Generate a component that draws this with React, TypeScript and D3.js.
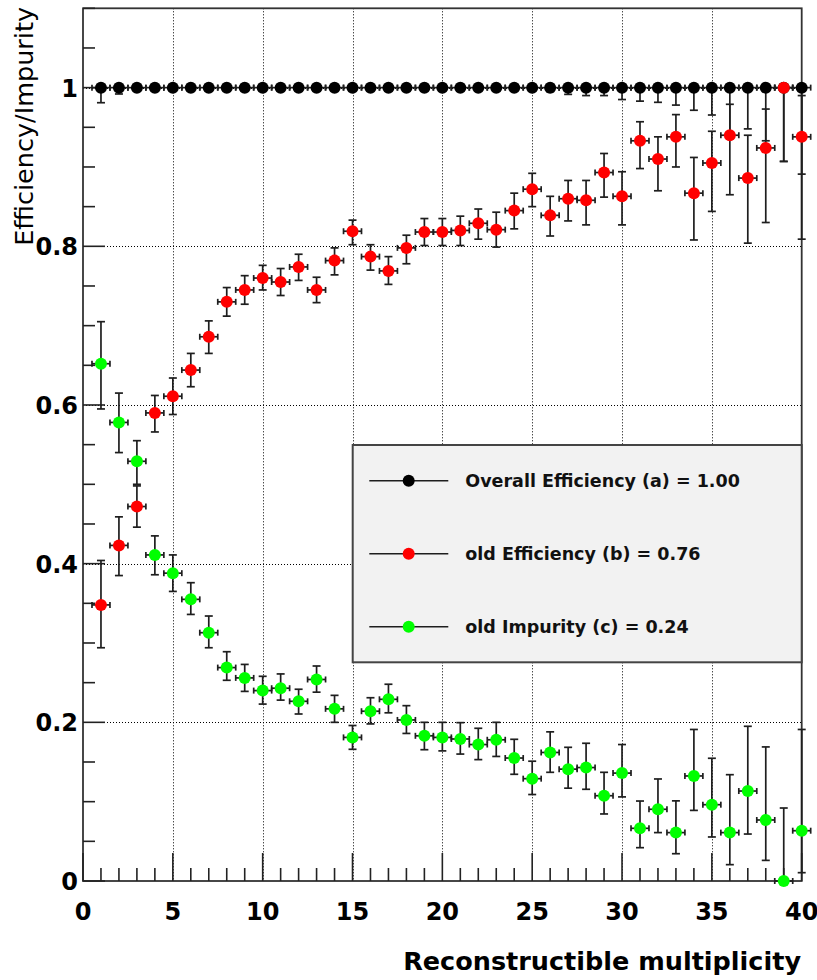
import React from 'react';
import * as d3 from 'd3';

// bins 1..40 (reconstructible multiplicity)
const bins = d3.range(1, 41);

// overall efficiency (a): all at 1, lower error only
const overallVal = bins.map(() => 1.0);
const overallLo = [
  0.981, 0.992, 0.996, 0.996, 0.996, 0.996, 0.996, 0.996, 0.996, 0.996,
  0.996, 0.996, 0.996, 0.996, 0.996, 0.996, 0.996, 0.996, 0.996, 0.996,
  0.996, 0.996, 0.996, 0.996, 0.996, 0.995, 0.9915, 0.990, 0.990, 0.985,
  0.983, 0.9815, 0.978, 0.9715, 0.9655, 0.94, 0.948, 0.933, 0.907, 0.891,
];
const overallHi = bins.map(() => 1.0);

// old efficiency (b)
const effVal = [
  0.348, 0.423, 0.472, 0.590, 0.611, 0.644, 0.686, 0.730, 0.745, 0.760,
  0.755, 0.774, 0.745, 0.782, 0.819, 0.787, 0.769, 0.798, 0.818, 0.818,
  0.820, 0.829, 0.821, 0.845, 0.872, 0.839, 0.860, 0.858, 0.893, 0.863,
  0.933, 0.910, 0.938, 0.867, 0.905, 0.940, 0.886, 0.924, 1.000, 0.938,
];
const effLo = [
  0.294, 0.385, 0.446, 0.566, 0.588, 0.623, 0.665, 0.712, 0.727, 0.745,
  0.738, 0.757, 0.729, 0.764, 0.802, 0.770, 0.752, 0.778, 0.801, 0.801,
  0.801, 0.809, 0.799, 0.822, 0.850, 0.813, 0.832, 0.827, 0.862, 0.827,
  0.898, 0.870, 0.900, 0.808, 0.844, 0.865, 0.804, 0.830, 0.907, 0.809,
];
const effHi = [
  0.404, 0.459, 0.498, 0.612, 0.634, 0.665, 0.706, 0.748, 0.763, 0.776,
  0.772, 0.790, 0.761, 0.798, 0.833, 0.802, 0.787, 0.814, 0.835, 0.835,
  0.838, 0.847, 0.843, 0.867, 0.892, 0.863, 0.883, 0.883, 0.917, 0.894,
  0.957, 0.938, 0.966, 0.912, 0.945, 0.979, 0.940, 0.973, 1.000, 0.990,
];

// old impurity (c)
const impVal = [
  0.652, 0.578, 0.529, 0.411, 0.388, 0.355, 0.313, 0.269, 0.256, 0.240,
  0.243, 0.2265, 0.254, 0.217, 0.181, 0.214, 0.229, 0.203, 0.183, 0.181,
  0.179, 0.172, 0.178, 0.155, 0.129, 0.162, 0.141, 0.143, 0.1075, 0.136,
  0.0664, 0.0904, 0.061, 0.1324, 0.0962, 0.061, 0.1134, 0.0769, 0.0, 0.0634,
];
const impLo = [
  0.595, 0.540, 0.500, 0.386, 0.365, 0.336, 0.294, 0.253, 0.239, 0.223,
  0.228, 0.2105, 0.238, 0.200, 0.166, 0.198, 0.212, 0.186, 0.1655, 0.164,
  0.160, 0.153, 0.157, 0.1345, 0.109, 0.137, 0.117, 0.1156, 0.0845, 0.106,
  0.042, 0.061, 0.0344, 0.089, 0.0555, 0.0206, 0.0592, 0.026, 0.0, 0.0105,
];
const impHi = [
  0.705, 0.615, 0.555, 0.435, 0.411, 0.376, 0.334, 0.289, 0.273, 0.258,
  0.261, 0.2417, 0.271, 0.234, 0.196, 0.231, 0.248, 0.221, 0.200, 0.200,
  0.1996, 0.1925, 0.200, 0.1786, 0.151, 0.188, 0.1685, 0.1736, 0.137, 0.172,
  0.1008, 0.1286, 0.101, 0.191, 0.1547, 0.134, 0.195, 0.169, 0.092, 0.191,
];

const legendLabels = [
  'Overall Efficiency (a) = 1.00',
  'old Efficiency (b) = 0.76',
  'old Impurity (c) = 0.24',
];
const xTicks = [0, 5, 10, 15, 20, 25, 30, 35, 40];
const yTicks = [0, 0.2, 0.4, 0.6, 0.8, 1];

const W = 817;
const H = 980;
const m = { left: 83, top: 8.3, right: 801.7, bottom: 881 };
const FONT = "'DejaVu Sans', sans-serif";
const BAR = '#1e1e1e';

const x = d3.scaleLinear().domain([0, 40]).range([m.left, m.right]);
const y = d3.scaleLinear().domain([0, 1.1]).range([m.bottom, m.top]);
const px = (v) => Math.round(v) + 0.5; // crisp dotted grid

const series = [
  { color: '#000000', val: overallVal, lo: overallLo, hi: overallHi },
  { color: '#ff0000', val: effVal, lo: effLo, hi: effHi },
  { color: '#00ff00', val: impVal, lo: impLo, hi: impHi },
];

const Series = ({ s }) => (
  <g>
    {bins.map((b, i) => {
      const cx = x(b);
      const cy = y(s.val[i]);
      const x0 = x(b - 0.5);
      const x1 = x(b + 0.5);
      const yl = y(s.lo[i]);
      const yh = y(s.hi[i]);
      return (
        <g key={b} stroke={BAR} strokeWidth={1.7}>
          <line x1={x0} x2={x1} y1={cy} y2={cy} />
          <line x1={x0} x2={x0} y1={cy - 3} y2={cy + 3} />
          <line x1={x1} x2={x1} y1={cy - 3} y2={cy + 3} />
          <line x1={cx} x2={cx} y1={yh} y2={yl} />
          <line x1={cx - 4} x2={cx + 4} y1={yh} y2={yh} />
          <line x1={cx - 4} x2={cx + 4} y1={yl} y2={yl} />
        </g>
      );
    })}
    {bins.map((b, i) => (
      <circle key={b} cx={x(b)} cy={y(s.val[i])} r={6} fill={s.color} />
    ))}
  </g>
);

export default function App() {
  const minorX = d3.range(0, 41);
  const minorY = d3.range(0, 1.1001, 0.05);
  const legend = { x0: 352.7, y0: 445, x1: 801.7, y1: 662.3 };
  const rows = [480.7, 553.7, 626.7];

  return (
    <svg
      width={W}
      height={H}
      style={{ position: 'absolute', left: 0, top: 0, background: '#fff' }}
      fontFamily={FONT}
    >
      {/* grid */}
      <g stroke="#000" strokeWidth={1} strokeDasharray="1,2">
        {xTicks.slice(1, -1).map((t) => (
          <line key={t} x1={px(x(t))} x2={px(x(t))} y1={m.top} y2={m.bottom} />
        ))}
        {yTicks.slice(1).map((t) => (
          <line key={t} x1={m.left} x2={m.right} y1={px(y(t))} y2={px(y(t))} />
        ))}
      </g>

      {/* frame */}
      <rect
        x={m.left}
        y={m.top}
        width={m.right - m.left}
        height={m.bottom - m.top}
        fill="none"
        stroke="#333"
        strokeWidth={1.8}
      />

      {/* ticks */}
      <g stroke="#222" strokeWidth={1.6}>
        {minorX.map((t) => (
          <line
            key={t}
            x1={x(t)}
            x2={x(t)}
            y1={m.bottom}
            y2={m.bottom - (t % 5 === 0 ? 28 : 13)}
          />
        ))}
        {minorY.map((t, i) => (
          <line
            key={i}
            x1={m.left}
            x2={m.left + (i % 4 === 0 ? 22 : 12)}
            y1={y(t)}
            y2={y(t)}
          />
        ))}
      </g>

      {/* tick labels */}
      <g fontSize={24} fontWeight="bold" fill="#000">
        {xTicks.map((t) => (
          <text key={t} x={x(t)} y={920} textAnchor="middle">
            {t}
          </text>
        ))}
        {yTicks.map((t) => (
          <text key={t} x={78} y={y(t) + 9} textAnchor="end">
            {d3.format('~g')(t)}
          </text>
        ))}
      </g>

      {/* axis titles */}
      <text
        transform={`translate(33,7) rotate(-90)`}
        textAnchor="end"
        fontSize={25.5}
        fill="#000"
      >
        Efficiency/Impurity
      </text>
      <text x={801} y={970} textAnchor="end" fontSize={25.5} fontWeight="bold" fill="#000">
        Reconstructible multiplicity
      </text>

      {/* data */}
      {series.map((s, k) => (
        <Series key={k} s={s} />
      ))}

      {/* legend */}
      <rect
        x={legend.x0}
        y={legend.y0}
        width={legend.x1 - legend.x0}
        height={legend.y1 - legend.y0}
        fill="#f2f2f2"
        stroke="#444"
        strokeWidth={2}
      />
      {series.map((s, k) => (
        <g key={k}>
          <line x1={369.3} x2={448.3} y1={rows[k]} y2={rows[k]} stroke={BAR} strokeWidth={1.4} />
          <circle cx={408.7} cy={rows[k]} r={6} fill={s.color} />
          <text x={465.3} y={rows[k] + 6.3} fontSize={17.5} fontWeight="bold" fill="#111">
            {legendLabels[k]}
          </text>
        </g>
      ))}
    </svg>
  );
}
